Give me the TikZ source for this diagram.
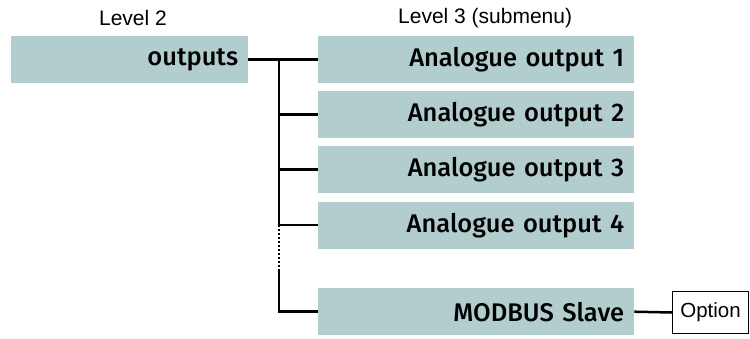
\documentclass[tikz,border=0pt]{standalone}
\usepackage{fontspec}
\setmainfont{Liberation Sans}
\newfontfamily\boxfont{Fira Sans}[UprightFont=* Medium]
\definecolor{boxfill}{RGB}{178,205,206}
\tikzset{
  menubox/.style={draw=none, fill=boxfill, anchor=north west, minimum height=47pt,
    inner xsep=10pt, inner ysep=0pt, align=right, font=\boxfont\fontsize{25.5}{30}\selectfont},
  optbox/.style={draw=black, line width=1pt, fill=white, anchor=north west, minimum height=42pt,
    minimum width=76pt, inner sep=0pt, font=\fontsize{20.5}{24}\selectfont},
  lvl/.style={font=\fontsize{21}{25}\selectfont, inner sep=0pt},
  conn/.style={line width=2.5pt, draw=black}
}
\begin{document}
\begin{tikzpicture}[x=1pt,y=-1pt]
\useasboundingbox (0,0) rectangle (750,338);
\node[lvl] (l2) at (133,18) {Level 2};
\node[lvl, anchor=west] (l3) at (398,18) {Level 3 (submenu)};
\node[menubox, text width=217pt] (out) at (11,36) {outputs};
\node[menubox, text width=296pt] (a1) at (318,36) {Analogue output 1};
\node[menubox, text width=296pt] (a2) at (318,91) {Analogue output 2};
\node[menubox, text width=296pt] (a3) at (318,146) {Analogue output 3};
\node[menubox, text width=296pt] (a4) at (318,201.5) {Analogue output 4};
\node[menubox, text width=296pt] (mb) at (318,288) {MODBUS Slave};
\node[optbox, anchor=north east] (opt) at (749,291) {Option};
\coordinate (top) at (279,0 |- out.east);
\coordinate (j4) at (279,0 |- a4.west);
\coordinate (d1) at (279,269);
\draw[conn] (out.east) -- (a1.west);
\draw[conn] (top) -- (j4);
\draw[conn] (top |- a2.west) -- (a2.west);
\draw[conn] (top |- a3.west) -- (a3.west);
\draw[conn] (j4) -- (a4.west);
\draw[line width=2.5pt, dash pattern=on 2pt off 2pt] (j4) -- (d1);
\draw[conn] (d1) -- (top |- mb.west) -- (mb.west);
\draw[conn] (mb.east) -- (opt.west);
\end{tikzpicture}
\end{document}
